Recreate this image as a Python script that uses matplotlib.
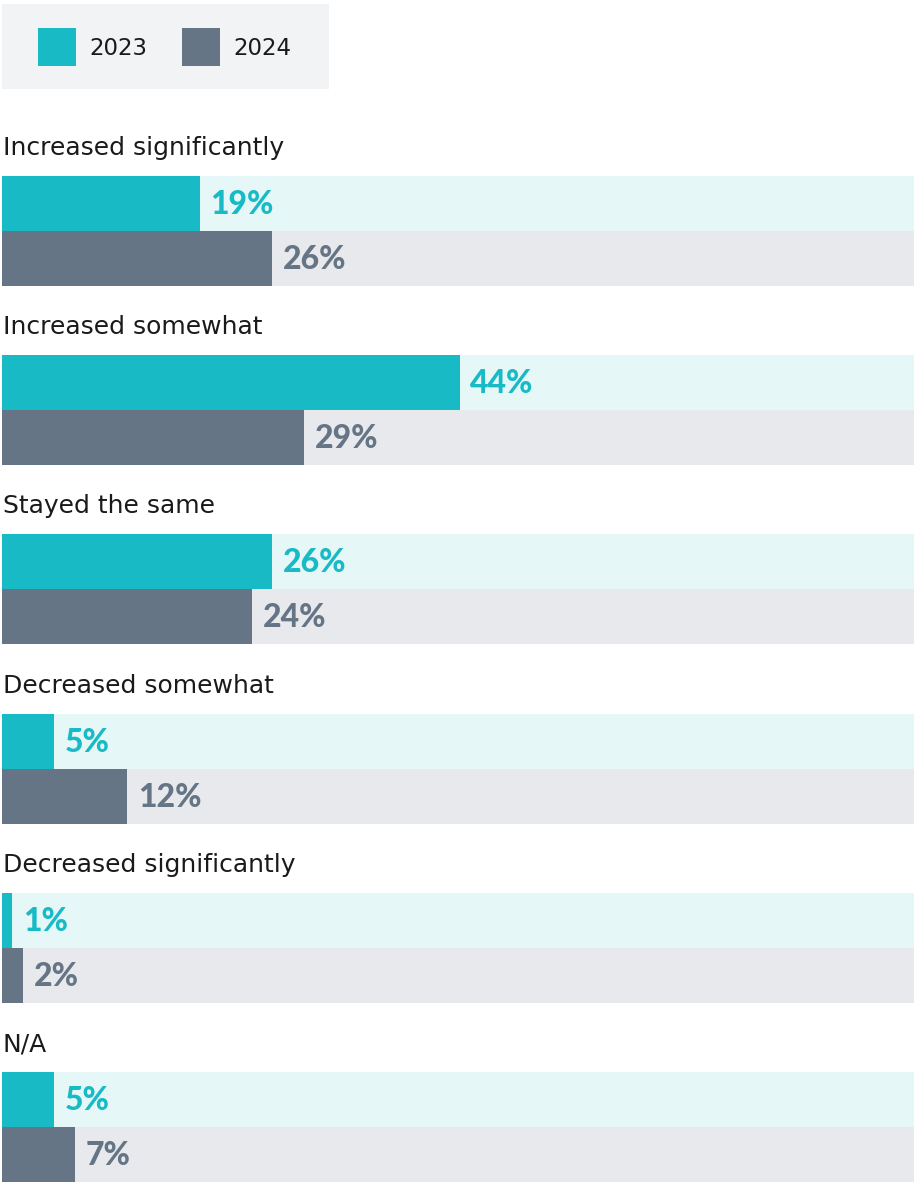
import matplotlib.pyplot as plt
from matplotlib.patches import Rectangle

categories = ["Increased significantly", "Increased somewhat", "Stayed the same",
              "Decreased somewhat", "Decreased significantly", "N/A"]
vals_2023 = [19, 44, 26, 5, 1, 5]
vals_2024 = [26, 29, 24, 12, 2, 7]
years = ["2023", "2024"]

teal = "#17bac5"
teal_bg = "#e6f7f8"
slate = "#667585"
slate_bg = "#e8e9ed"

W, H = 920, 1183
xmax = 87.7  # track width in percent units

plt.rcParams['font.family'] = ['Lato', 'DejaVu Sans']

fig = plt.figure(figsize=(W / 100, H / 100), dpi=100)
ax = fig.add_axes([2 / W, 0, 912 / W, 1])
ax.set_xlim(0, xmax)
ax.set_ylim(H, 0)
ax.axis("off")

pitch = 179.2
bar_h = 55
for i, cat in enumerate(categories):
    top = 176 + i * pitch
    y1 = top + bar_h / 2
    y2 = top + bar_h * 1.5
    ax.barh(y1, xmax, height=bar_h, color=teal_bg, linewidth=0)
    ax.barh(y2, xmax, height=bar_h, color=slate_bg, linewidth=0)
    ax.barh(y1, vals_2023[i], height=bar_h, color=teal, linewidth=0)
    ax.barh(y2, vals_2024[i], height=bar_h, color=slate, linewidth=0)
    ax.text(vals_2023[i] + 1.05, y1 + 1, f"{vals_2023[i]}%", color=teal,
            fontsize=23, fontweight="black", va="center", ha="left")
    ax.text(vals_2024[i] + 1.05, y2 + 1, f"{vals_2024[i]}%", color=slate,
            fontsize=23, fontweight="black", va="center", ha="left")
    ax.text(0.05, top - 28, cat, color="#1a1a1a", fontsize=18,
            family="DejaVu Sans", va="center", ha="left")

# legend box
lg = fig.add_axes([0, 0, 1, 1], zorder=3)
lg.set_xlim(0, W)
lg.set_ylim(H, 0)
lg.axis("off")
lg.add_patch(Rectangle((2, 4), 327, 85, color="#f2f3f5", linewidth=0))
for x0, col, yr in [(38, teal, years[0]), (182, slate, years[1])]:
    lg.add_patch(Rectangle((x0, 28), 38, 38, color=col, linewidth=0))
    lg.text(x0 + 51, 48, yr, fontsize=16.5, color="#1a1a1a", family="DejaVu Sans",
            va="center", ha="left")

fig.savefig("out.png", dpi=100)
